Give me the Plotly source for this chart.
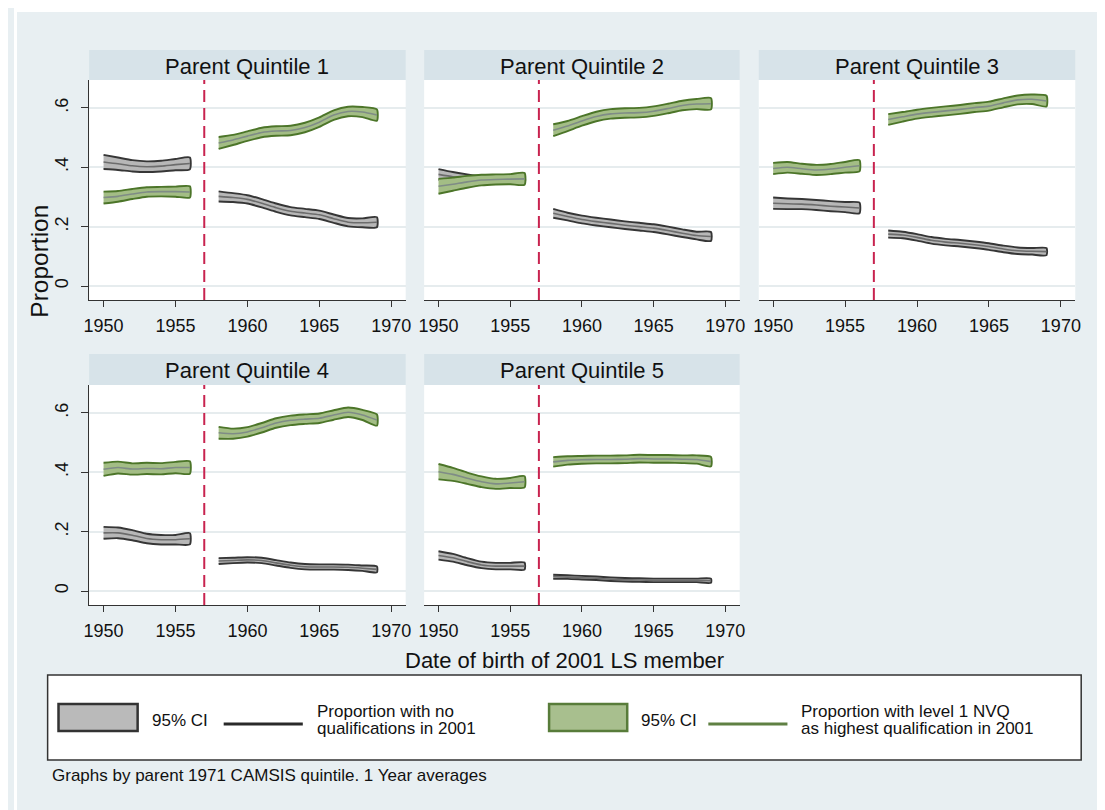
import plotly.graph_objects as go

# ---------------- data ----------------
years_pre = [1950, 1951, 1952, 1953, 1954, 1955, 1956]
years_post = [1958, 1959, 1960, 1961, 1962, 1963, 1964, 1965, 1966, 1967, 1968, 1969]

panel_titles = ["Parent Quintile 1", "Parent Quintile 2", "Parent Quintile 3",
                "Parent Quintile 4", "Parent Quintile 5"]

# Proportion with no qualifications in 2001 (centre) and CI half-widths
noq_pre = [
    [0.418, 0.412, 0.405, 0.402, 0.404, 0.409, 0.413],
    [0.376, 0.368, 0.362, 0.358, 0.357, 0.357, 0.357],
    [0.279, 0.277, 0.276, 0.273, 0.269, 0.266, 0.263],
    [0.196, 0.196, 0.188, 0.177, 0.173, 0.173, 0.176],
    [0.120, 0.112, 0.099, 0.088, 0.084, 0.084, 0.084],
]
noq_pre_hw = [
    [0.024, 0.021, 0.019, 0.018, 0.018, 0.019, 0.020],
    [0.018, 0.016, 0.014, 0.012, 0.012, 0.012, 0.012],
    [0.019, 0.018, 0.017, 0.017, 0.017, 0.017, 0.018],
    [0.020, 0.018, 0.017, 0.016, 0.016, 0.016, 0.019],
    [0.014, 0.013, 0.012, 0.011, 0.011, 0.011, 0.012],
]
noq_post = [
    [0.302, 0.298, 0.292, 0.279, 0.264, 0.252, 0.246, 0.240, 0.227, 0.215, 0.213, 0.215],
    [0.245, 0.234, 0.224, 0.217, 0.211, 0.205, 0.200, 0.195, 0.187, 0.178, 0.170, 0.167],
    [0.175, 0.172, 0.164, 0.154, 0.148, 0.144, 0.139, 0.133, 0.125, 0.119, 0.117, 0.116],
    [0.101, 0.103, 0.105, 0.103, 0.095, 0.087, 0.082, 0.081, 0.081, 0.080, 0.077, 0.073],
    [0.048, 0.047, 0.045, 0.043, 0.040, 0.038, 0.037, 0.036, 0.036, 0.036, 0.036, 0.035],
]
noq_post_hw = [
    [0.017, 0.015, 0.014, 0.014, 0.014, 0.014, 0.014, 0.014, 0.014, 0.014, 0.015, 0.017],
    [0.015, 0.013, 0.013, 0.013, 0.013, 0.013, 0.013, 0.013, 0.013, 0.013, 0.013, 0.015],
    [0.012, 0.011, 0.011, 0.011, 0.011, 0.011, 0.011, 0.011, 0.011, 0.011, 0.011, 0.012],
    [0.010, 0.009, 0.009, 0.009, 0.009, 0.009, 0.009, 0.009, 0.009, 0.009, 0.009, 0.010],
    [0.007, 0.006, 0.006, 0.006, 0.006, 0.006, 0.006, 0.006, 0.006, 0.006, 0.006, 0.007],
]

# Proportion with level 1 NVQ as highest qualification in 2001
nvq_pre = [
    [0.298, 0.302, 0.310, 0.317, 0.318, 0.318, 0.317],
    [0.336, 0.343, 0.351, 0.357, 0.359, 0.360, 0.361],
    [0.396, 0.400, 0.395, 0.391, 0.394, 0.400, 0.405],
    [0.410, 0.416, 0.411, 0.413, 0.412, 0.416, 0.416],
    [0.402, 0.393, 0.380, 0.368, 0.361, 0.364, 0.368],
]
nvq_pre_hw = [
    [0.020, 0.018, 0.017, 0.016, 0.016, 0.017, 0.019],
    [0.025, 0.022, 0.020, 0.018, 0.017, 0.017, 0.020],
    [0.019, 0.018, 0.017, 0.017, 0.017, 0.018, 0.019],
    [0.022, 0.020, 0.019, 0.019, 0.019, 0.019, 0.021],
    [0.026, 0.022, 0.019, 0.018, 0.017, 0.017, 0.019],
]
nvq_post = [
    [0.482, 0.492, 0.505, 0.517, 0.522, 0.524, 0.534, 0.552, 0.576, 0.588, 0.586, 0.576],
    [0.525, 0.539, 0.556, 0.571, 0.580, 0.583, 0.584, 0.589, 0.598, 0.608, 0.613, 0.614],
    [0.561, 0.570, 0.579, 0.585, 0.590, 0.595, 0.601, 0.606, 0.617, 0.627, 0.629, 0.623],
    [0.533, 0.530, 0.536, 0.550, 0.566, 0.575, 0.579, 0.582, 0.593, 0.602, 0.593, 0.576],
    [0.435, 0.440, 0.442, 0.443, 0.443, 0.444, 0.446, 0.445, 0.445, 0.444, 0.443, 0.436],
]
nvq_post_hw = [
    [0.020, 0.017, 0.016, 0.016, 0.016, 0.016, 0.016, 0.016, 0.016, 0.016, 0.017, 0.019],
    [0.020, 0.017, 0.016, 0.016, 0.016, 0.016, 0.016, 0.016, 0.016, 0.016, 0.017, 0.019],
    [0.018, 0.016, 0.015, 0.015, 0.015, 0.015, 0.015, 0.015, 0.015, 0.015, 0.016, 0.018],
    [0.020, 0.017, 0.016, 0.016, 0.016, 0.016, 0.016, 0.016, 0.016, 0.016, 0.017, 0.019],
    [0.016, 0.014, 0.013, 0.013, 0.013, 0.013, 0.013, 0.013, 0.013, 0.013, 0.014, 0.016],
]

x_ticks = [1950, 1955, 1960, 1965, 1970]
y_ticks = [0, 0.2, 0.4, 0.6]
y_tick_text = ["0", ".2", ".4", ".6"]
cutoff_year = 1957

# ---------------- styling ----------------
PAGE_MARGIN = 8           # browser default body margin
W, H = 1105 - PAGE_MARGIN, 810 - PAGE_MARGIN
FONT = "Liberation Sans, Arial, sans-serif"
BG = "#e8eff2"
STRIP = "#d7e3e9"
GREY_FILL = "#b7b7b7"
GREY_EDGE = "#363636"
GREY_MID = "#6c6c6c"
GREEN_FILL = "#a3bd85"
GREEN_EDGE = "#4c7529"
GREEN_MID = "#7f8c86"
RED = "#c8234f"


def px(x):
    return (x - PAGE_MARGIN) / W


def py(y):
    return 1 - (y - PAGE_MARGIN) / H


# panel plot areas in screen pixels
col_x = [(84, 404), (422.7, 741.7), (761, 1081)]
row_y = [(80, 300), (385, 605)]
strip_y = [(50, 80), (354, 385)]
panel_pos = [(0, 0), (0, 1), (0, 2), (1, 0), (1, 1)]

fig = go.Figure()
layout = dict(
    width=W, height=H, autosize=False,
    margin=dict(l=0, r=0, t=0, b=0),
    paper_bgcolor=BG, plot_bgcolor="white",
    showlegend=False,
    font=dict(family=FONT, color="#111111"),
)
shapes = []
annotations = []

# white outer margin at top and left (beyond the page margin)
shapes.append(dict(type="rect", xref="paper", yref="paper", x0=0, x1=1, y0=py(12), y1=1,
                   fillcolor="white", line=dict(width=0), layer="below"))
shapes.append(dict(type="rect", xref="paper", yref="paper", x0=0, x1=px(11), y0=0, y1=1,
                   fillcolor="white", line=dict(width=0), layer="below"))


def band(xref, yref, yrs, center, hw, fill, edge, mid):
    upper = [c + h for c, h in zip(center, hw)]
    lower = [c - h for c, h in zip(center, hw)]
    fig.add_trace(go.Scatter(
        x=yrs + yrs[::-1], y=upper + lower[::-1], mode="lines",
        fill="toself", fillcolor=fill,
        line=dict(color=edge, width=1.9, shape="spline", smoothing=0.6),
        xaxis=xref, yaxis=yref, hoverinfo="skip"))
    fig.add_trace(go.Scatter(
        x=yrs, y=center, mode="lines",
        line=dict(color=mid, width=1.6, shape="spline", smoothing=0.6),
        xaxis=xref, yaxis=yref, hoverinfo="skip"))


for i, (r, c) in enumerate(panel_pos):
    n = i + 1
    xn = "x" if n == 1 else f"x{n}"
    yn = "y" if n == 1 else f"y{n}"
    x0, x1 = col_x[c]
    t0, t1 = row_y[r]
    first_col = (c == 0)
    layout["xaxis" if n == 1 else f"xaxis{n}"] = dict(
        domain=[px(x0), px(x1)], range=[1949, 1971], anchor=yn,
        tickvals=x_ticks, ticks="outside", ticklen=6, tickwidth=1.2, tickcolor="#333333",
        showline=True, linecolor="#333333", linewidth=1.3,
        showgrid=False, zeroline=False, ticklabelstandoff=3,
        tickfont=dict(size=18, family=FONT, color="#111111"), fixedrange=True)
    layout["yaxis" if n == 1 else f"yaxis{n}"] = dict(
        domain=[py(t1), py(t0)], range=[-0.047, 0.694], anchor=xn,
        tickvals=y_ticks, ticktext=y_tick_text,
        showgrid=True, gridcolor="#e6ecee", gridwidth=1.6, zeroline=False,
        showline=first_col, linecolor="#333333", linewidth=1.3,
        ticks="outside" if first_col else "", ticklen=7, tickwidth=1.2, tickcolor="#333333",
        showticklabels=first_col, tickangle=-90, ticklabelstandoff=6,
        tickfont=dict(size=18, family=FONT, color="#111111"), fixedrange=True)

    # strip header
    s0, s1 = strip_y[r]
    shapes.append(dict(type="rect", xref="paper", yref="paper",
                       x0=px(x0), x1=px(x1), y0=py(s1), y1=py(s0),
                       fillcolor=STRIP, line=dict(width=0)))
    annotations.append(dict(text=panel_titles[i], xref="paper", yref="paper",
                            x=px((x0 + x1) / 2), y=py((s0 + s1) / 2 + 1),
                            xanchor="center", yanchor="middle", showarrow=False,
                            font=dict(size=22, family=FONT, color="#111111")))
    # cutoff line
    shapes.append(dict(type="line", xref=xn, yref=f"{yn} domain",
                       x0=cutoff_year, x1=cutoff_year, y0=0, y1=1,
                       line=dict(color=RED, width=2, dash="12px,6px")))

    band(xn, yn, years_pre, noq_pre[i], noq_pre_hw[i], GREY_FILL, GREY_EDGE, GREY_MID)
    band(xn, yn, years_post, noq_post[i], noq_post_hw[i], GREY_FILL, GREY_EDGE, GREY_MID)
    band(xn, yn, years_pre, nvq_pre[i], nvq_pre_hw[i], GREEN_FILL, GREEN_EDGE, GREEN_MID)
    band(xn, yn, years_post, nvq_post[i], nvq_post_hw[i], GREEN_FILL, GREEN_EDGE, GREEN_MID)

# axis titles
annotations.append(dict(text="Proportion", xref="paper", yref="paper",
                        x=px(34), y=py(261), textangle=-90, showarrow=False,
                        xanchor="center", yanchor="middle",
                        font=dict(size=24.5, family=FONT, color="#111111")))
annotations.append(dict(text="Date of birth of 2001 LS member", xref="paper", yref="paper",
                        x=px(565), y=py(660), showarrow=False,
                        xanchor="center", yanchor="middle",
                        font=dict(size=22, family=FONT, color="#111111")))

# legend box
shapes.append(dict(type="rect", xref="paper", yref="paper",
                   x0=px(42), x1=px(1087), y0=py(760), y1=py(675),
                   fillcolor="white", line=dict(color="#333333", width=1.5)))
shapes.append(dict(type="rect", xref="paper", yref="paper",
                   x0=px(53), x1=px(133), y0=py(731), y1=py(704),
                   fillcolor="#bababa", line=dict(color="#333333", width=2.5)))
shapes.append(dict(type="line", xref="paper", yref="paper",
                   x0=px(220), x1=px(300), y0=py(724), y1=py(724),
                   line=dict(color="#2a2a2a", width=3)))
shapes.append(dict(type="rect", xref="paper", yref="paper",
                   x0=px(549), x1=px(628), y0=py(731), y1=py(704),
                   fillcolor="#a8bf8e", line=dict(color="#587c3a", width=2.5)))
shapes.append(dict(type="line", xref="paper", yref="paper",
                   x0=px(710), x1=px(790), y0=py(724), y1=py(724),
                   line=dict(color="#5f8043", width=3)))

legend_texts = [
    ("95% CI", 145, 720),
    ("Proportion with no", 312, 711),
    ("qualifications in 2001", 312, 728),
    ("95% CI", 640, 720),
    ("Proportion with level 1 NVQ", 802, 711),
    ("as highest qualification in 2001", 802, 728),
]
for txt, lx, ly in legend_texts:
    annotations.append(dict(text=txt, xref="paper", yref="paper",
                            x=px(lx), y=py(ly), xanchor="left", yanchor="middle",
                            showarrow=False,
                            font=dict(size=17, family=FONT, color="#111111")))

annotations.append(dict(text="Graphs by parent 1971 CAMSIS quintile. 1 Year averages",
                        xref="paper", yref="paper", x=px(44), y=py(775),
                        xanchor="left", yanchor="middle", showarrow=False,
                        font=dict(size=17, family=FONT, color="#111111")))

layout["shapes"] = shapes
layout["annotations"] = annotations
fig.update_layout(**layout)
fig.write_html("out.html")
